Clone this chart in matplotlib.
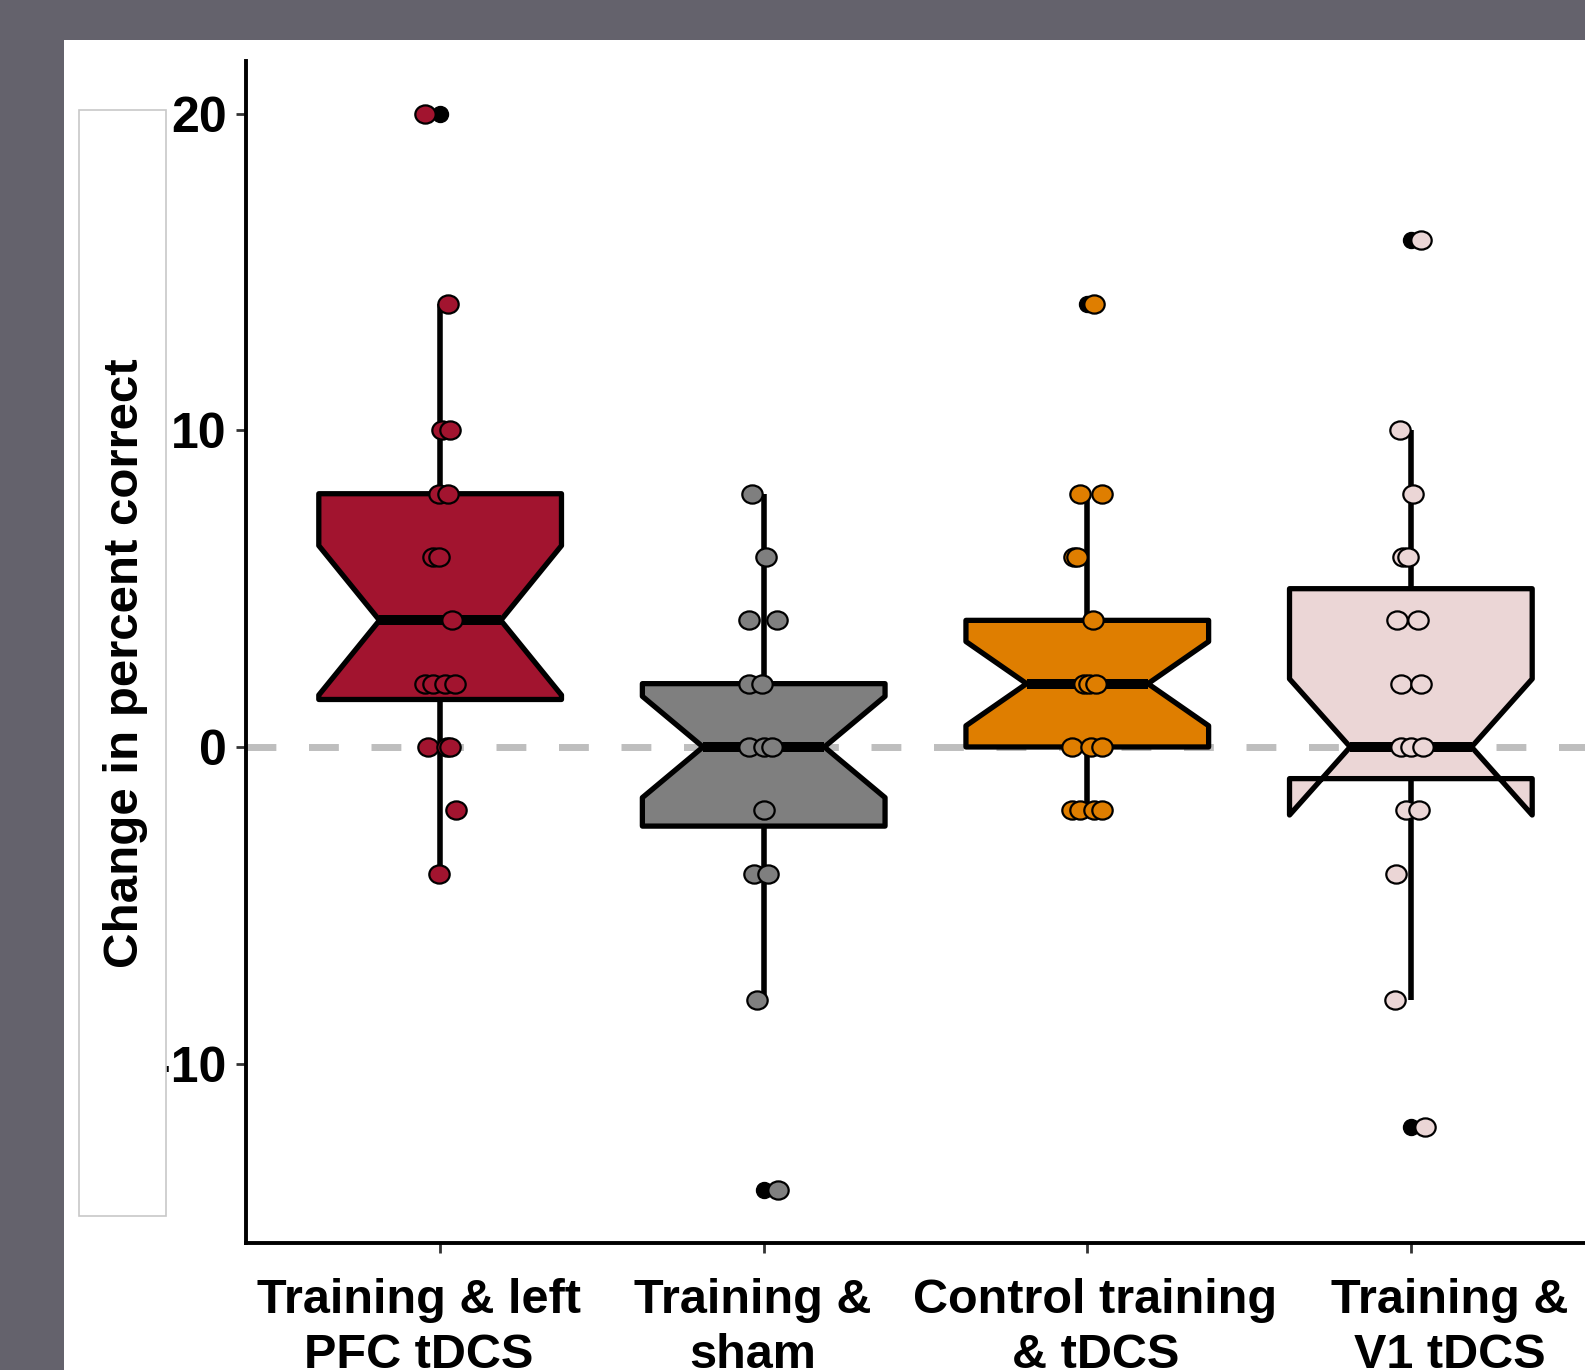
import matplotlib.pyplot as plt
from matplotlib.patches import Rectangle
from matplotlib.path import Path
from matplotlib.transforms import Affine2D, ScaledTranslation

groups = ['Training & left\nPFC tDCS', 'Training &\nsham', 'Control training\n& tDCS', 'Training &\nV1 tDCS']
colors = ['#a2142f', '#7f7f7f', '#df7e00', '#ebd6d6']
# the category labels sit a little off their ticks in the original (pixels)
label_shift = [-21, -11, 8, 39]

# box statistics
medians = [4, 0, 2, 0]
q1 = [1.5, -2.5, 0, -1.0]
q3 = [8, 2, 4, 5]
notch_lo = [1.64, -1.6, 0.67, -2.15]
notch_hi = [6.36, 1.6, 3.33, 2.15]
whisk_lo = [-4, -8, -2, -8]
whisk_hi = [14, 8, 8, 10]
outliers = [[20], [-14], [14], [16, -12]]

# jittered points: value and horizontal offset from the group centre
pfc_y = [20, 14, 10, 10, 8, 8, 6, 6, 4, 2, 2, 2, 2, 0, 0, 0, -2, -4]
pfc_dx = [-0.047, 0.025, 0.006, 0.03, -0.005, 0.025, -0.022, -0.003, 0.037,
          -0.046, -0.022, 0.015, 0.046, -0.037, 0.022, 0.031, 0.05, -0.003]
sham_y = [8, 6, 4, 4, 2, 2, 0, 0, 0, -2, -4, -4, -8, -14]
sham_dx = [-0.037, 0.006, -0.047, 0.04, -0.047, -0.006, -0.047, 0.0, 0.025,
           0.0, -0.03, 0.013, -0.022, 0.044]
ctrl_y = [14, 8, 8, 6, 6, 4, 2, 2, 2, 0, 0, 0, -2, -2, -2, -2]
ctrl_dx = [0.022, -0.022, 0.047, -0.04, -0.033, 0.019, -0.01, 0.006, 0.028,
           -0.047, 0.012, 0.044, -0.047, -0.022, 0.022, 0.044]
v1_y = [16, 10, 8, 6, 6, 4, 4, 2, 2, 0, 0, 0, -2, -2, -4, -8, -12]
v1_dx = [0.03, -0.034, 0.006, -0.025, -0.01, -0.044, 0.022, -0.03, 0.03,
         -0.03, 0.0, 0.037, -0.016, 0.025, -0.047, -0.05, 0.044]

points_y = [pfc_y, sham_y, ctrl_y, v1_y]
points_dx = [pfc_dx, sham_dx, ctrl_dx, v1_dx]

plt.rcParams['font.family'] = ['Liberation Sans', 'DejaVu Sans']
plt.rcParams['font.weight'] = 'bold'
plt.rcParams['axes.unicode_minus'] = False

W, H = 1585, 1370
fig = plt.figure(figsize=(W / 100, H / 100), dpi=100, facecolor='#64626c')
fig.patches.append(Rectangle((64 / W, 0), 1, 1 - 40 / H, transform=fig.transFigure,
                             facecolor='white', edgecolor='none', zorder=-5))

ax = fig.add_axes([246 / W, 127 / H, 1359 / W, 1182 / H])
ax.set_xlim(0.4, 4.6)
ax.set_ylim(-15.67, 21.67)

ax.axhline(0, color='#bebebe', lw=5, linestyle=(0, (4.3, 4.7)), zorder=1)

stats = []
for i in range(4):
    stats.append(dict(med=medians[i], q1=q1[i], q3=q3[i], cilo=notch_lo[i], cihi=notch_hi[i],
                      whislo=whisk_lo[i], whishi=whisk_hi[i], fliers=outliers[i]))

bp = ax.bxp(stats, positions=[1, 2, 3, 4], widths=0.75, shownotches=True, showcaps=False,
            patch_artist=True, manage_ticks=False,
            boxprops=dict(linewidth=3.8, edgecolor='black', joinstyle='round'),
            whiskerprops=dict(linewidth=4, color='black', solid_capstyle='butt'),
            medianprops=dict(linewidth=7.2, color='black', solid_capstyle='butt'),
            flierprops=dict(marker='o', markerfacecolor='black', markeredgecolor='black',
                            markersize=11.5, linestyle='none'))
for patch, c in zip(bp['boxes'], colors):
    patch.set_facecolor(c)

# points look slightly wider than tall in the original
ellipse = Path.unit_circle().transformed(Affine2D().scale(1.12, 1.0))
for i in range(4):
    xs = [i + 1 + d for d in points_dx[i]]
    ax.scatter(xs, points_y[i], s=215, marker=ellipse, color=colors[i],
               edgecolors='black', linewidths=1.6, zorder=4)

ax.spines['top'].set_visible(False)
ax.spines['right'].set_visible(False)
ax.spines['left'].set_linewidth(2.8)
ax.spines['bottom'].set_linewidth(2.8)

ax.set_yticks([-10, 0, 10, 20])
ax.set_xticks([1, 2, 3, 4])
ax.set_xticklabels([])
ax.tick_params(axis='both', length=7, width=2, color='#333333', labelsize=36)
ax.tick_params(axis='y', pad=7)

for i in range(4):
    shift = ScaledTranslation(label_shift[i] / 100, -35 / 100, fig.dpi_scale_trans)
    ax.text(i + 1, 0, groups[i], transform=ax.get_xaxis_transform() + shift,
            ha='center', va='top', fontsize=35, fontweight='bold', linespacing=1.28)

fig.patches.append(Rectangle((79 / W, 1 - 1216 / H), 87 / W, 1106 / H, transform=fig.transFigure,
                             facecolor='white', edgecolor='#c8c8c8', lw=1.2, zorder=3))
fig.text(126 / W, 1 - 663 / H, 'Change in percent correct', rotation=90, ha='center', va='center',
         fontsize=35.5, fontweight='bold', zorder=5)

fig.savefig('out.png', dpi=100, facecolor=fig.get_facecolor())
